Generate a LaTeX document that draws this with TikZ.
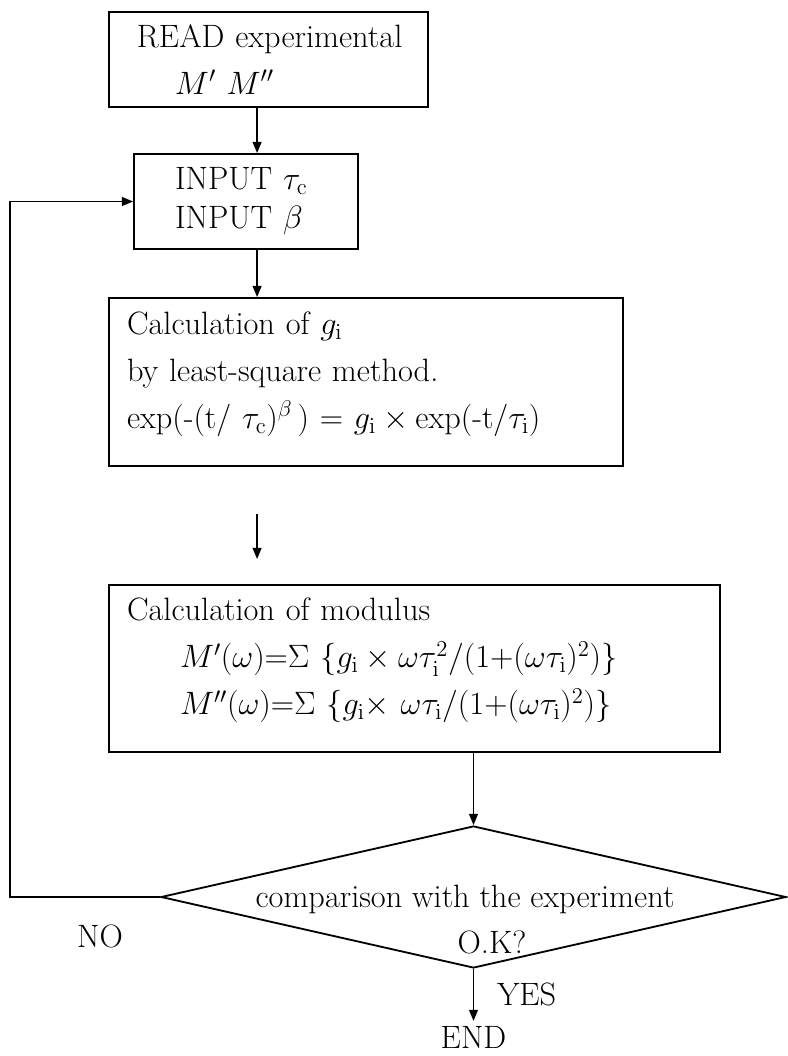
\RequirePackage{fix-cm}
\documentclass[tikz,border=0pt]{standalone}
\usepackage{amsmath, amssymb}
\usetikzlibrary{arrows.meta, shapes.geometric, positioning}

\tikzset{
procbox/.style={draw, line width=1.3pt, inner xsep=0pt, inner ysep=0pt, align=left},
flowline/.style={line width=1.2pt, -{Triangle[length=0.28cm,width=0.22cm]}}
}

\begin{document}
\begin{tikzpicture}[font=\fontsize{23}{33.4}\selectfont]

\useasboundingbox (0,0) rectangle (19.675,-26.4);

% -------- Read box --------
\node[
procbox,
minimum width=7.975cm,
minimum height=2.375cm,
text width=7.975cm
] (read) at (6.7125,-1.4875)
{\hspace*{0.7cm}\mbox{READ experimental}\\
\hspace*{1.65cm}$M'$ $M''$};

% -------- Input box --------
\node[
procbox,
minimum width=5.6cm,
minimum height=2.375cm,
text width=5.6cm
] (input) at (6.15,-5.0375)
{\hspace*{1.025cm}INPUT $\tau_{\mathrm{c}}$\\[-5.7pt]
\hspace*{1.025cm}INPUT $\beta$};

% -------- Fit box --------
\node[
procbox,
minimum width=12.85cm,
minimum height=4.2cm,
text width=12.85cm
] (calc) at (9.15,-9.55)
{\hspace*{0.45cm}Calculation of $g_{\mathrm{i}}$\\
\hspace*{0.45cm}by least-square method.\\
\hspace*{0.45cm}exp(-(t/ $\tau_{\mathrm{c}}$)$^{\beta}$\,) = $g_{\mathrm{i}}\times{}$exp(-t/$\tau_{\mathrm{i}}$)\rule[-0.6cm]{0pt}{0pt}};

% -------- Modulus box --------
\node[
procbox,
minimum width=15.275cm,
minimum height=4.175cm,
text width=15.275cm
] (modulus) at (10.3625,-16.7125)
{\hspace*{0.45cm}Calculation of modulus\\
\hspace*{1.775cm}$M'(\omega){=}\Sigma\ \{g_{\mathrm{i}}\times\omega\tau_{\mathrm{i}}^{2}/(1{+}(\omega\tau_{\mathrm{i}})^{2})\}$\\
\hspace*{1.775cm}$M''(\omega){=}\Sigma\ \{g_{\mathrm{i}}{\times}\ \omega\tau_{\mathrm{i}}/(1{+}(\omega\tau_{\mathrm{i}})^{2})\}$\rule[-0.6cm]{0pt}{0pt}};

% -------- Decision --------
\node[
draw,
shape=diamond,
line width=1.3pt,
inner sep=0pt,
minimum width=15.625cm,
minimum height=3.55cm
] (cmp) at (11.8375,-22.425) {};
\node[anchor=base] (cmptxt) at (11.625,-22.675) {comparison with the experiment};
\node[anchor=base] (oktxt) at (12.3,-23.825) {O.K?};
\node[anchor=base] (stop) at (11.8375,-26.2) {END};

% -------- Connectors --------
\coordinate (spine) at ([xshift=3.725cm]read.south west);
\draw[flowline] (spine) -- (spine |- input.north);
\draw[flowline] (spine |- input.south) -- (spine |- calc.north);
\path (spine |- calc.south) ++(0,-1.175) coordinate (gapin);
\path (spine |- modulus.north) ++(0,0.625) coordinate (gapout);
\draw[flowline] (gapin) -- (gapout);
\draw[flowline] (modulus.south -| cmp.north) -- (cmp.north);
\draw[flowline] (cmp.south) -- node[right=0.45cm] (yes) {YES} (stop.north);
\draw[flowline] (cmp.west) -- node[pos=0.4, below=0.55cm] (no) {NO} ++(-3.75,0) |- (input.west);

\end{tikzpicture}
\end{document}
